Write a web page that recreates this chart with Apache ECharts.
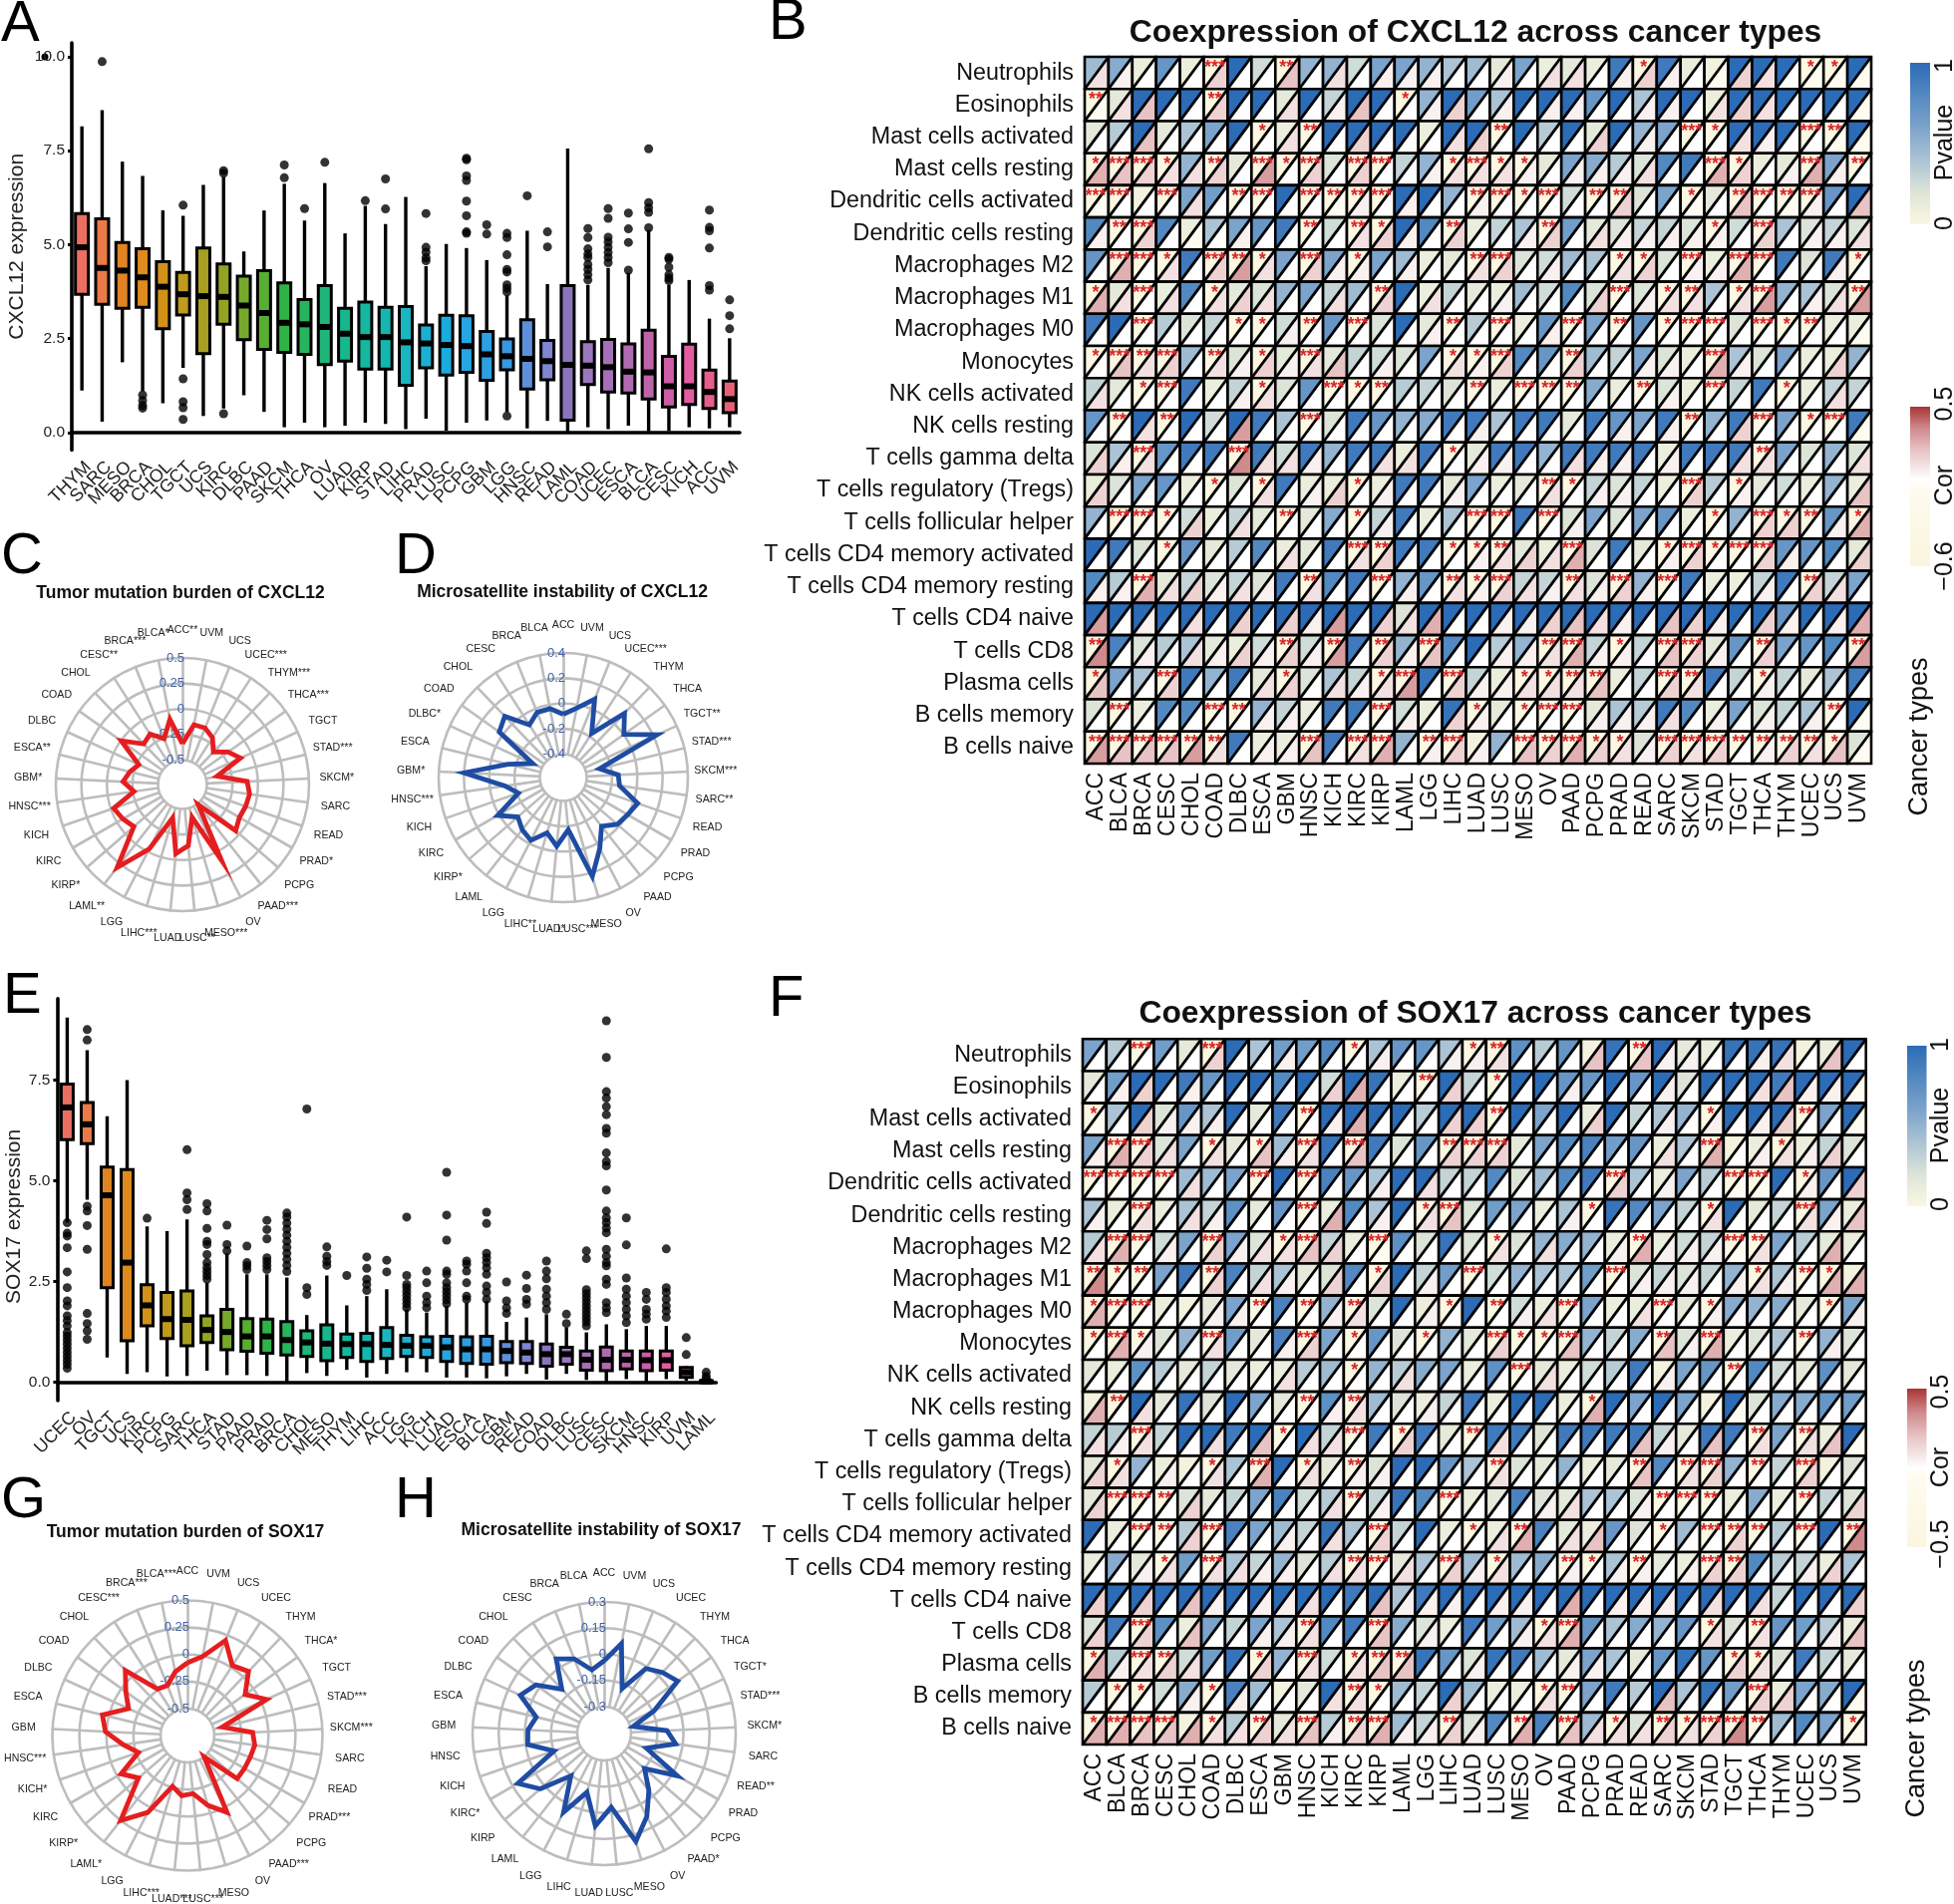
<!DOCTYPE html>
<html><head><meta charset="utf-8">
<style>html,body{margin:0;background:#fff}#c{width:1960px;height:1910px}</style>
<script src="https://cdn.jsdelivr.net/npm/echarts@6/dist/echarts.min.js"></script></head>
<body><div id="c"></div>
<script>
const cancers=["ACC","BLCA","BRCA","CESC","CHOL","COAD","DLBC","ESCA","GBM","HNSC","KICH","KIRC","KIRP","LAML","LGG","LIHC","LUAD","LUSC","MESO","OV","PAAD","PCPG","PRAD","READ","SARC","SKCM","STAD","TGCT","THCA","THYM","UCEC","UCS","UVM"];
const cells=["Neutrophils","Eosinophils","Mast cells activated","Mast cells resting","Dendritic cells activated","Dendritic cells resting","Macrophages M2","Macrophages M1","Macrophages M0","Monocytes","NK cells activated","NK cells resting","T cells gamma delta","T cells regulatory (Tregs)","T cells follicular helper","T cells CD4 memory activated","T cells CD4 memory resting","T cells CD4 naive","T cells CD8","Plasma cells","B cells memory","B cells naive"];
const hues=["#EC6F62","#EA7B48","#E08423","#DD8A1F","#D2921A","#BF9A1B","#A89F20","#94A224","#76A92B","#58AD33","#2FB246","#26B55E","#1FB679","#16B78D","#13B89F","#14B7AF","#19B5C0","#1AB1D0","#1AACDC","#25A6E2","#2D9FE0","#3898E0","#5E8FDA","#7F86D0","#8A75BC","#9A77BE","#A570B8","#B06BB0","#BE63AA","#CC5CA8","#E25DA0","#E55E8D","#E86078"];

// Panel A: low, q1, median, q3, high
const aNames=["THYM","SARC","MESO","BRCA","CHOL","TGCT","UCS","KIRC","DLBC","PAAD","SKCM","THCA","OV","LUAD","KIRP","STAD","LIHC","PRAD","LUSC","PCPG","GBM","LGG","HNSC","READ","LAML","COAD","UCEC","ESCA","BLCA","CESC","KICH","ACC","UVM"];
const aStats=[[1.12,3.68,4.93,5.83,8.15],[.29,3.41,4.38,5.69,8.58],[1.87,3.31,4.31,5.06,7.21],[1.1,3.33,4.13,4.89,6.83],[.78,2.76,3.88,4.55,5.91],[1.72,3.13,3.68,4.26,5.77],[.44,2.1,3.63,4.91,6.59],[.64,2.88,3.61,4.49,6.8],[.99,2.47,3.38,4.16,4.82],[.55,2.21,3.18,4.31,5.91],[.14,2.13,2.92,3.98,6.62],[.26,2.08,2.88,3.54,5.64],[.14,1.81,2.81,3.91,6.64],[.18,1.9,2.63,3.31,5.3],[.26,1.69,2.54,3.47,6.03],[.23,1.69,2.54,3.33,5.55],[.09,1.26,2.4,3.35,6.27],[.37,1.72,2.37,2.86,4.43],[.05,1.53,2.33,3.12,5.02],[.26,1.6,2.3,3.11,4.91],[.32,1.39,2.08,2.69,4.59],[.55,1.67,2.03,2.49,3.65],[.11,1.16,1.96,3,5.37],[.31,1.4,1.9,2.45,3.95],[.02,.33,1.8,3.91,7.56],[.14,1.28,1.78,2.42,3.93],[.09,1.08,1.74,2.48,4.38],[.18,1.05,1.62,2.36,4.25],[.03,.89,1.6,2.72,5.39],[.04,.68,1.23,2.03,3.93],[.14,.75,1.23,2.35,4.06],[.11,.64,1.08,1.66,3.03],[.14,.53,.89,1.37,2.51]];
const aOut=[[],[9.87],[],[1,.85,.72,.65],[],[6.05,1.43,.82,.66,.35],[],[6.97,6.9,.5],[],[],[7.12,6.78],[5.96],[7.19],[],[6.17],[6.75,5.95],[],[5.83,4.93,4.8,4.65,4.57],[],[7.3,7.26,6.83,6.71,6.16,5.77,5.34,5.3],[5.53,5.28],[5.3,5.19,4.73,4.34,4.27,3.93,3.84,3.74,.44],[6.3],[5.34,4.94],[],[5.43,5.19,4.89,4.75,4.66,4.47,4.34,4.2,4.06],[5.96,5.7,5.2,5.07,4.93,4.79,4.66,4.52],[5.84,5.42,5.06,4.32],[7.55,6.12,5.98,5.86,5.45],[4.66,4.61,4.4,4.2,4.11,4.04],[],[5.92,5.46,5.37,4.91,3.91,3.79],[3.53,3.11,2.76]];

// Panel E
const eNames=["UCEC","OV","TGCT","UCS","KIRC","PCPG","SARC","THCA","STAD","PAAD","PRAD","BRCA","CHOL","MESO","THYM","LIHC","ACC","LGG","KICH","LUAD","ESCA","BLCA","GBM","READ","COAD","DLBC","LUSC","CESC","SKCM","HNSC","KIRP","UVM","LAML"];
const eStats=[[3.96,6.02,6.82,7.4,9.05],[4.53,5.92,6.4,6.94,8.24],[.62,2.35,4.64,5.34,6.6],[.21,1.03,2.97,5.28,7.5],[.25,1.4,1.91,2.42,3.87],[.15,1.09,1.57,2.23,3.75],[.16,.91,1.55,2.27,4.04],[.29,.99,1.3,1.65,2.47],[.18,.81,1.25,1.81,3.2],[.18,.77,1.14,1.58,2.68],[.16,.72,1.14,1.57,2.68],[0,.68,1.05,1.51,2.6],[.23,.64,.99,1.28,1.67],[.16,.54,.96,1.43,2.65],[.31,.62,.95,1.2,1.91],[.12,.52,.95,1.22,2.14],[.21,.59,.93,1.36,2.31],[.25,.64,.91,1.17,1.81],[.25,.62,.91,1.13,1.73],[.12,.52,.87,1.14,1.9],[.12,.47,.82,1.13,1.98],[.1,.45,.82,1.14,2.02],[.15,.49,.78,1.01,1.5],[.21,.47,.74,1.01,1.61],[.07,.4,.7,.95,1.69],[.21,.45,.7,.87,1.36],[.06,.3,.56,.78,1.24],[.02,.29,.56,.88,1.44],[.08,.33,.56,.78,1.32],[.02,.29,.55,.78,1.4],[.08,.3,.55,.78,1.4],[.04,.12,.25,.37,.4],[0,0,.02,.04,.06]];
const eOut=[[3.96,3.7,3.63,3.34,2.74,2.35,2.02,1.9,1.65,1.53,1.4,1.24,1.15,1.05,.95,.85,.75,.65,.55,.45,.35],[8.75,8.49,4.37,4.25,3.89,3.3,1.71,1.46,1.28,1.07],[],[],[4.07],[],[5.77,4.7,4.53,4.29],[4.43,4.25,3.82,3.5,3.42,3.17,2.97,2.85,2.75,2.65,2.56],[3.9,3.42,3.26],[3.38,2.97,2.89,2.8],[4.02,3.79,3.56,3.09,3,2.9,2.8],[4.2,4.1,3.95,3.8,3.65,3.5,3.35,3.2,3.05,2.9,2.75],[6.78,2.35,2.18],[3.36,3.13,3,2.9],[2.65],[3.11,2.83,2.56,2.43,2.28],[3.03,2.74],[4.1,2.65,2.43,2.35,2.25,2.15,2.05,1.95,1.85],[2.76,2.47,2.14,1.98,1.85],[5.21,4.15,3.53,2.76,2.68,2.47,2.35,2.25,2.15,2.05,1.95],[3.01,2.93,2.76,2.47,2.14,2.06],[4.22,3.94,3.2,3.09,2.97,2.84,2.68,2.39,2.23,2.06],[2.49,2.02,1.85,1.71],[2.66,2.33,2.06,1.94],[3.01,2.76,2.57,2.31,2.14,1.98,1.81],[1.69,1.46],[3.26,3.07,2.3,2.2,2.1,2,1.9,1.8,1.7,1.6,1.5,1.4],[8.97,8.06,7.21,7.05,6.84,6.64,6.3,6.18,5.69,5.48,5.37,4.77,4.25,4.08,3.96,3.83,3.71,3.3,3.13,2.97,2.89,2.56,2.43,1.98,1.85,1.73],[4.08,3.41,2.59,2.31,2.14,1.98,1.81,1.65,1.48],[2.23,2.06,1.81,1.69,1.57],[3.31,2.35,2.23,2.06,1.9,1.77,1.61],[1.11,.69],[.25,.15,.08]];

// Radar panels, alphabetical order as in cancers
const tmbC=[-.34,-.09,-.256,-.153,-.19,-.003,-.27,-.21,-.157,-.26,-.027,-.066,-.11,.294,-.03,-.4,-.06,-.138,-.405,.096,-.49,-.05,-.095,-.085,-.075,-.105,-.39,-.115,-.19,-.3,-.195,-.143,-.143];
const msiD=[-.085,-.03,-.03,-.09,.085,.036,-.32,-.136,.2,-.12,-.21,.014,-.11,-.06,-.026,-.13,-.04,-.17,.23,.045,-.096,-.02,.002,.037,-.136,-.15,-.29,.23,.003,.116,-.17,.083,-.026];
const tmbG=[-.076,-.15,-.25,-.237,.083,-.05,-.15,.06,.01,-.15,-.27,-.04,-.15,.25,.05,-.26,-.19,-.21,-.076,.05,-.5,-.14,-.14,-.135,-.12,-.145,-.417,.056,-.094,.07,.02,.198,-.005];
const msiH=[-.037,-.083,.007,.054,-.103,.026,.074,-.054,-.017,-.012,-.15,.117,.03,-.146,.053,-.104,.077,-.03,.19,.08,-.04,-.148,.03,-.198,-.04,-.094,-.283,-.14,.063,.03,-.011,-.177,.07];
const starsC={ACC:"**",BLCA:"*",BRCA:"***",CESC:"**",ESCA:"**",GBM:"*",HNSC:"***",KIRP:"*",LAML:"**",LIHC:"***",LUSC:"**",MESO:"***",PAAD:"***",PRAD:"*",SKCM:"*",STAD:"***",THCA:"***",THYM:"***",UCEC:"***"};
const starsD={DLBC:"*",GBM:"*",HNSC:"***",KIRP:"*",LIHC:"**",LUAD:"*",LUSC:"***",SARC:"**",SKCM:"***",STAD:"***",TGCT:"**",UCEC:"***"};
const starsG={BLCA:"***",BRCA:"***",CESC:"***",HNSC:"***",KICH:"*",KIRP:"*",LAML:"*",LIHC:"***",LUAD:"***",LUSC:"***",PAAD:"***",PRAD:"***",SKCM:"***",STAD:"***",THCA:"*"};
const starsH={KIRC:"*",PAAD:"*",READ:"**",SKCM:"*",STAD:"***",TGCT:"*"};

// Panel B: P values
const bP=[
[.45,.55,.1,.7,.1,0,1,.25,0,.5,.5,.25,.6,.6,.5,.4,.45,.15,.6,.1,.15,.1,.9,0,.9,.1,.05,1,1,1,0,0,1],
[0,.15,1,1,1,0,1,1,.15,1,.3,1,1,0,.5,1,.65,.4,1,1,1,.7,1,.4,1,1,.1,1,1,1,1,1,1],
[.15,.35,1,.15,.4,.6,1,0,.1,0,1,1,1,1,.1,1,1,0,1,.35,1,.15,1,.5,.6,0,0,1,1,1,0,0,1],
[0,0,0,0,.5,0,.15,0,0,0,.2,0,0,.3,.5,0,0,0,0,.15,.6,.55,.35,.2,.8,.9,0,0,.1,.15,0,.6,0],
[0,0,.05,0,.6,.65,0,0,1,0,0,0,0,1,1,.5,0,0,0,0,.25,0,0,.2,.6,0,.15,0,0,0,0,.7,1],
[.8,0,0,.8,.1,.4,.6,.7,.9,0,.25,0,0,1,.8,0,.1,.3,.4,0,.65,.15,.2,.3,.3,.2,0,.25,0,.4,.2,.3,.2],
[.7,0,0,0,.9,0,0,0,.6,0,.6,0,.6,.45,.1,.15,0,0,.2,.25,.45,.4,0,0,.2,0,.1,0,0,.9,.2,.9,0],
[0,.15,0,.1,.8,0,.15,.2,.5,.6,.3,.45,0,1,.1,.3,.15,.1,.45,.25,.8,.2,0,.2,0,0,.4,0,0,.5,.4,.2,0],
[.9,1,0,.35,.2,.3,0,0,.25,0,.7,0,.2,1,.15,0,.35,0,.1,.7,0,.6,0,.7,0,0,0,.2,0,0,0,.1,.1],
[0,0,0,0,.45,0,.2,0,.15,0,.15,.3,.25,.2,.6,0,0,0,.8,.7,0,.45,.3,.6,.2,.1,0,.4,.2,.6,.1,.1,.5],
[.3,.15,0,0,.9,.1,.3,0,.2,.7,0,0,0,.35,.3,.2,0,.1,0,0,0,.55,.1,0,.2,.1,0,.3,.9,0,.1,.3,.3],
[.7,0,1,0,1,.25,1,.9,.4,0,.2,.9,.7,.5,.55,.9,.9,.4,.9,.9,.15,.9,.7,.6,.9,0,.5,.9,0,.6,0,0,.9],
[.2,.4,0,.7,.9,.9,0,.9,.25,.9,.5,.9,.9,.1,.9,0,.15,.9,.9,.5,.9,.9,.9,.9,.1,.9,.9,.9,0,.6,.2,.5,.2],
[.1,.2,.6,.7,.1,0,.2,0,.9,.1,.1,0,.1,.9,.9,.15,.6,.1,.15,0,0,.3,.2,.3,.1,0,.35,0,.15,.25,.1,.5,.1],
[.5,0,0,0,.25,.1,.3,.15,0,.15,.55,0,.3,.9,.1,.4,0,0,.9,0,.2,.6,.2,.6,.7,.1,0,.5,0,0,0,.7,0],
[1,.9,.2,0,.7,.15,.35,.8,.1,.15,.9,0,0,.9,.9,0,0,0,.15,.1,0,.2,.9,.15,0,0,0,0,0,.7,.7,.8,.15],
[.8,.35,0,.15,.3,.2,.3,.2,.9,0,.8,.9,0,.5,.7,0,0,0,.3,.3,0,.2,0,.5,0,.9,.1,.1,.3,.9,0,.3,.6],
[1,1,1,1,1,1,1,1,1,1,1,1,1,.2,1,1,1,1,1,1,1,1,1,1,1,1,1,1,1,.7,1,1,1],
[0,.85,.2,.35,.4,.15,.1,.25,0,.25,0,.9,0,.5,0,.8,1,.35,.5,0,0,.3,0,.3,0,0,.15,.7,0,.6,.7,.8,0],
[0,.6,.4,0,.9,.5,.9,.15,0,.2,.4,.3,0,0,.95,0,.3,.1,0,0,0,0,.1,.3,0,0,.9,.3,0,.3,.15,.4,.9],
[.2,0,.1,.8,.8,0,0,.5,.3,.1,.9,.9,0,.25,.1,.95,0,.15,0,0,0,.15,.4,.35,.9,.8,.1,.6,.2,.3,.4,0,1],
[0,0,0,0,0,0,.9,.1,.1,0,.9,0,0,.5,0,0,.05,.5,0,0,0,0,0,.2,0,0,0,0,0,0,0,0,.2]];
// Panel B: correlation x100
const bC=[
[10,5,0,0,0,15,0,0,20,0,10,0,5,5,5,0,0,5,0,10,10,0,5,15,5,0,-5,15,10,0,-5,-5,-5],
[-5,10,20,0,0,15,0,0,10,0,5,20,0,0,5,15,0,5,0,5,5,0,0,5,5,0,10,15,10,0,0,0,-5],
[0,0,20,0,0,0,0,0,10,0,0,15,0,0,0,10,15,0,0,0,0,15,0,5,0,0,0,10,5,0,0,-5,-5],
[25,20,15,10,10,15,0,30,0,15,0,15,0,0,5,10,10,10,5,0,5,5,5,10,0,0,25,15,0,5,25,5,0],
[-5,0,0,0,10,0,0,0,0,0,-5,5,0,5,0,0,5,0,0,0,0,0,15,0,0,-5,0,20,0,-5,5,0,20],
[5,0,15,0,-5,0,5,0,0,0,0,10,15,5,0,15,0,0,5,15,0,10,5,5,5,5,5,0,15,0,5,5,10],
[0,25,0,10,0,15,30,10,0,15,5,5,0,5,0,0,10,15,0,5,0,0,10,15,0,5,5,25,0,0,0,5,0],
[25,10,0,10,0,10,15,10,0,0,10,0,15,0,10,0,0,5,0,0,0,15,0,5,10,10,0,10,30,0,5,10,30],
[0,0,0,0,0,0,0,0,5,0,0,0,0,0,5,0,0,0,0,5,0,0,0,0,0,0,0,0,0,0,0,0,-5],
[0,20,10,15,0,10,5,15,5,10,20,0,5,0,0,10,5,15,0,0,15,0,0,5,5,0,25,5,0,0,0,15,0],
[10,0,0,0,0,0,5,10,0,0,0,0,0,0,0,0,0,0,0,0,0,0,0,0,5,0,0,0,0,0,0,10,0],
[0,0,10,0,0,0,30,0,0,0,0,0,0,0,0,0,5,0,0,0,0,0,5,0,5,0,0,15,0,0,0,0,-5],
[15,5,10,0,0,0,35,10,10,5,0,0,10,10,0,0,5,5,0,0,10,5,5,0,5,0,0,10,10,0,0,0,10],
[15,0,0,0,0,0,0,10,0,5,15,0,5,0,0,5,0,0,0,10,0,5,5,0,0,15,0,5,0,0,0,0,20],
[0,0,0,0,15,0,10,0,0,0,0,0,5,0,0,0,0,0,0,0,5,0,0,0,0,0,0,0,15,15,0,5,25],
[0,0,0,0,0,0,0,0,10,0,0,10,15,0,0,0,5,10,15,10,25,0,0,0,5,15,0,0,15,5,0,0,15],
[5,5,25,10,15,5,10,5,0,10,0,0,0,5,0,10,5,15,10,5,10,5,15,5,0,0,0,0,5,0,15,10,0],
[30,0,5,0,10,0,15,0,15,5,30,0,15,10,25,0,0,5,5,15,20,10,5,0,20,15,5,0,15,5,0,5,25],
[35,0,5,0,10,5,15,5,15,5,30,0,15,5,20,0,0,5,5,10,25,5,5,0,20,15,5,0,15,0,0,0,30],
[20,0,0,15,0,0,0,10,15,0,10,5,10,30,0,15,5,5,10,10,10,20,0,0,15,10,0,0,5,0,0,0,0],
[0,0,0,0,0,0,0,5,5,0,0,0,0,5,0,15,5,0,0,0,0,5,5,5,10,0,5,0,5,0,5,0,-5],
[30,20,20,20,30,10,0,5,5,20,0,10,25,0,5,15,5,0,20,15,25,15,10,5,15,10,15,0,5,15,10,20,-5]];
// Panel B: significance stars {column: count}
const bS=[{5:3,8:2,23:1,30:1,31:1},{0:2,5:2,13:1},{7:1,9:2,17:2,25:3,26:1,30:3,31:2},{0:1,1:3,2:3,3:1,5:2,7:3,8:1,9:3,11:3,12:3,15:1,16:3,17:1,18:1,26:3,27:1,30:3,32:2},{0:3,1:3,3:3,6:2,7:3,9:3,10:2,11:2,12:3,16:2,17:3,18:1,19:3,21:2,22:2,25:1,27:2,28:3,29:2,30:3},{1:2,2:3,9:2,11:2,12:1,15:2,19:2,26:1,28:3},{1:3,2:3,3:1,5:3,6:2,7:1,9:3,11:1,16:2,17:3,22:1,23:1,25:3,27:3,28:3,32:1},{0:1,2:3,5:1,12:2,22:3,24:1,25:2,27:1,28:3,32:2},{2:3,6:1,7:1,9:2,11:3,15:2,17:3,20:3,22:2,24:1,25:3,26:3,28:3,29:1,30:2},{0:1,1:3,2:2,3:3,5:2,7:1,9:3,15:1,16:1,17:3,20:2,26:3},{2:1,3:3,7:1,10:3,11:1,12:2,16:2,18:3,19:2,20:2,23:2,26:3,29:1},{1:2,3:2,9:3,25:2,28:3,30:1,31:3},{2:3,6:3,15:1,28:2},{5:1,7:1,11:1,19:2,20:1,25:3,27:1},{1:3,2:3,3:1,8:2,11:1,16:3,17:3,19:3,26:1,28:3,29:1,30:2,32:1},{3:1,11:3,12:2,15:1,16:1,17:2,20:3,24:1,25:3,26:1,27:3,28:3},{2:3,9:2,12:3,15:2,16:1,17:3,20:2,22:3,24:3,30:2},{},{0:2,8:2,10:2,12:2,14:3,19:2,20:3,22:1,24:3,25:3,28:2,32:2},{0:1,3:3,8:1,12:1,13:3,15:3,18:1,19:1,20:2,21:2,24:3,25:2,28:1},{1:3,5:3,6:2,12:3,16:1,18:1,19:3,20:3,31:2},{0:2,1:3,2:3,3:3,4:2,5:2,9:3,11:3,12:3,14:2,15:3,18:3,19:2,20:3,21:1,22:1,24:3,25:3,26:3,27:2,28:2,29:2,30:2,31:1}];

// Panel F
const fP=[
[.6,.35,0,.65,.15,0,1,.4,.65,.65,.8,0,.4,.7,.7,.4,0,0,.75,.35,.7,.05,.95,0,1,.15,.1,.95,.95,.95,.05,.1,1],
[.15,.65,1,1,.9,.7,1,1,.8,1,.25,1,.95,.1,0,1,.3,0,1,1,.7,.7,1,.7,1,.2,1,1,1,.9,1,1,1],
[0,.4,1,.2,.7,.4,1,.15,.9,0,1,1,1,1,.35,1,1,0,1,.6,1,.1,1,.3,.4,.5,0,1,1,1,0,.6,1],
[.6,0,0,.2,.6,0,.15,0,.45,0,.95,0,.9,.2,.7,0,0,0,.15,.6,.8,.85,.65,.7,.1,.4,0,.05,.1,0,.1,.3,.2],
[0,0,0,0,.45,.45,.6,0,1,0,.85,.7,.4,1,1,.3,.3,.8,.2,.45,.8,.9,0,.4,.1,.6,.35,0,0,1,0,.7,1],
[.4,.1,0,.1,.4,.3,.75,.15,.7,0,.1,.8,.4,1,0,0,.2,.65,.6,.1,.4,0,.95,.8,.6,.3,0,1,.15,.3,0,.6,.1],
[.35,0,0,.25,.6,0,.6,.2,0,0,.3,.1,0,.75,.2,.95,.2,0,.2,.5,.55,.5,.1,0,.1,.25,.3,0,0,.6,.35,.15,.1],
[0,0,0,.6,.9,0,.85,.3,.4,.15,.2,.8,0,1,.3,.65,0,.25,.5,.4,.4,.65,0,.2,.3,.2,.3,.5,0,.4,0,0,.05],
[0,0,0,.1,.05,.15,.6,0,.85,0,.5,0,.2,1,.1,0,1,0,.25,.1,0,.6,.1,.1,0,.15,0,.55,.5,.55,.15,0,.6],
[0,0,0,.2,.5,0,.65,.15,.85,0,.6,0,.7,.2,0,.5,.15,0,0,0,0,.5,.3,.55,0,.2,0,.1,.2,.4,0,.5,.2],
[.15,.1,.75,.35,.15,.3,.15,.1,.1,.35,.45,0,.5,.35,.55,.6,.1,.75,0,.15,.1,.25,.35,.9,.05,.6,.7,0,.8,.25,.15,.75,.15],
[.05,0,1,.15,.95,.2,1,.6,.15,0,.75,0,.45,.2,.1,.3,.9,.1,1,1,.1,0,1,.6,1,.6,.05,1,.2,.55,.55,.7,.65],
[.3,.35,0,.3,1,1,.9,1,0,1,.3,0,.9,0,.9,.15,0,.9,.9,.2,.9,.9,.9,.9,.3,.15,.9,.9,0,.6,0,.1,1],
[.15,0,.5,.1,.05,0,.4,0,1,0,.15,0,.2,1,1,.7,.4,0,.2,.15,.5,.1,.15,0,.8,0,0,.5,0,.3,0,.05,.2],
[.15,0,0,0,.2,.15,.3,.6,.85,.25,.35,0,.3,.95,.8,0,.1,.15,.85,.2,.15,.4,.4,.2,0,0,0,.1,.55,.1,0,.3,.2],
[1,.1,0,0,.35,0,.85,.6,.45,.3,.95,.4,0,.3,1,.1,0,.1,0,.85,.15,.1,.7,.2,0,.45,0,0,0,.35,0,1,0],
[.1,.55,.15,0,.65,0,.4,.3,.5,.2,.35,0,0,.15,.4,0,.45,0,.45,.55,0,0,.4,0,.15,.1,0,0,.8,.35,.3,.1,.4],
[1,1,1,1,1,1,1,1,1,1,1,.9,1,.4,.9,1,1,1,1,1,1,1,1,1,1,1,1,1,1,.3,1,1,1],
[.2,.9,0,.75,.1,.6,.3,.6,.4,0,.8,.9,0,.55,.2,.1,.9,.65,.45,0,0,.7,.4,.55,.5,.7,0,.2,0,.7,.65,.35,.1],
[0,.35,0,0,.25,.65,.95,0,.5,0,.25,0,0,0,.95,.7,.2,.95,.9,.45,.15,.6,.4,.15,.7,.95,.7,0,0,.2,.9,.3,.15],
[.35,0,0,.25,.55,0,.85,.45,.05,.15,1,0,0,.45,.3,1,.45,.1,.1,0,0,.6,.9,.35,1,.4,.95,.65,0,.1,.6,.55,1],
[0,0,0,0,.05,0,.35,0,.15,0,.35,0,0,.45,.3,0,.2,.8,0,.85,0,.45,0,.2,0,0,0,0,0,.45,.8,.6,0]];
const fC=[
[0,0,0,0,0,15,0,0,5,0,0,0,5,0,0,5,5,10,0,0,0,20,0,20,5,5,0,0,5,10,0,20,0],
[0,5,15,0,5,0,0,0,0,0,15,25,0,0,0,15,0,0,0,0,5,0,0,0,5,0,0,0,10,20,5,5,-5],
[-5,0,15,5,5,5,0,0,0,0,5,25,0,0,0,15,15,0,0,0,0,15,0,0,5,0,5,0,5,15,0,0,-5],
[5,25,15,10,0,10,0,20,5,10,0,20,0,0,0,15,15,15,0,0,0,0,0,0,10,0,25,0,5,10,5,15,0],
[0,0,0,0,10,0,0,0,0,0,0,0,5,0,10,0,0,0,0,0,0,0,15,0,5,0,0,-5,-5,0,5,0,15],
[5,0,10,0,10,5,0,0,0,0,25,0,5,0,10,20,0,0,0,0,5,0,0,0,0,0,10,0,0,0,10,5,20],
[10,25,0,5,0,15,5,10,10,20,15,0,-5,0,0,0,0,10,0,10,0,0,5,25,5,5,5,-5,10,0,0,25,0],
[35,0,0,0,0,15,0,10,5,0,15,0,15,0,5,0,0,0,0,0,0,0,0,5,5,5,0,5,10,5,0,25,25],
[25,0,0,0,0,5,5,0,0,0,5,10,0,0,5,0,0,0,5,10,0,0,0,10,0,0,5,0,0,0,0,0,5],
[0,25,5,0,0,10,0,0,5,15,0,0,0,0,0,0,0,15,0,0,20,0,0,0,20,5,25,0,0,0,0,5,0],
[0,0,0,0,0,0,0,0,10,0,0,0,0,10,0,0,0,0,0,10,0,0,0,0,5,0,0,0,0,0,0,0,0],
[25,0,10,0,0,0,0,0,0,0,5,10,0,0,5,0,0,0,0,0,0,25,0,0,0,0,0,-5,0,0,0,0,0],
[10,5,10,0,0,10,0,20,0,10,10,0,0,15,0,0,0,10,0,0,0,0,0,20,5,0,20,0,10,0,10,20,-5],
[15,10,0,5,0,10,0,25,0,10,0,5,5,0,0,0,0,10,0,0,0,0,0,20,0,10,15,0,0,0,15,0,0],
[15,0,0,0,15,0,0,0,0,0,10,0,5,0,0,0,0,0,0,5,10,0,0,5,0,0,0,0,0,0,0,0,15],
[0,0,0,0,15,0,0,0,5,0,10,0,15,0,0,0,0,10,25,0,10,20,0,0,0,0,0,15,0,0,0,0,35],
[0,0,5,10,0,10,10,5,5,0,10,10,0,10,0,15,5,10,0,0,5,0,5,5,0,5,15,15,0,0,5,15,0],
[15,0,15,0,20,5,0,5,5,10,0,0,20,5,5,5,0,5,5,0,25,0,5,5,5,0,10,0,10,0,0,0,15],
[15,0,15,0,20,0,0,5,5,10,0,0,20,0,5,0,0,0,5,10,25,0,0,0,0,0,10,0,10,0,0,5,20],
[25,5,10,15,10,0,0,15,0,10,0,10,20,20,0,0,5,0,0,0,5,5,0,0,0,0,0,15,10,0,0,0,0],
[0,0,0,0,5,0,5,0,0,0,10,10,0,0,0,15,0,0,0,10,0,0,0,0,20,0,0,0,15,15,0,0,-5],
[25,25,20,20,25,10,10,15,10,20,5,15,25,5,5,15,5,0,25,0,20,10,10,10,15,10,15,35,0,0,0,0,-5]];
const fS=[{2:3,5:3,11:1,16:1,17:2,23:2},{14:2,17:1},{0:1,9:2,17:2,26:1,30:2},{1:3,2:3,5:1,7:1,9:3,11:3,15:2,16:3,17:3,26:3,29:1},{0:3,1:3,2:3,3:3,7:3,9:3,22:3,27:3,28:3,30:1},{2:3,9:3,14:1,15:3,21:1,26:1,30:3},{1:3,2:3,5:3,8:1,9:3,12:3,17:1,23:2,27:3,28:2},{0:2,1:1,2:2,5:2,12:1,16:3,22:3,28:1,30:2,31:1},{0:1,1:3,2:3,7:2,9:2,11:2,15:1,17:2,20:3,24:3,26:1,31:1},{0:1,1:3,2:1,5:3,9:3,11:1,14:1,17:3,18:1,19:1,20:3,24:2,26:3,30:2},{11:1,18:3,27:2},{1:2,9:2,11:2,21:1},{2:3,8:1,11:3,13:1,16:2,28:2,30:2},{1:1,5:1,7:3,9:1,11:2,17:2,23:2,25:2,26:3,28:2,30:3},{1:3,2:3,3:2,11:2,15:3,24:2,25:3,26:2,30:2},{2:3,3:2,5:3,12:3,16:1,18:2,24:1,26:3,27:2,28:2,30:3,32:2},{3:1,5:3,11:2,12:3,15:3,17:1,20:2,21:1,23:2,26:3,27:2},{},{2:3,9:2,12:3,19:1,20:3,26:1,28:2},{0:1,2:3,3:2,7:1,9:3,11:1,12:2,13:2,27:1,28:1},{1:1,2:1,5:1,11:2,12:1,19:1,20:2,28:3},{0:1,1:3,2:3,3:3,5:1,7:2,9:3,11:2,12:3,15:2,18:2,20:3,22:1,24:2,25:1,26:3,27:3,28:2,32:1}];

const SANS='"Liberation Sans",Arial,sans-serif';
const pStops=[[0,'#FBF7E1'],[.2,'#DCE4D8'],[.4,'#ABC3D4'],[.6,'#7BA3CB'],[.8,'#5389C1'],[1,'#2C6BB6']];
const cStops=[[-.6,'#FAF5DD'],[-.05,'#FEFCF0'],[0,'#FFFFFF'],[.1,'#F3E0E0'],[.2,'#E8C3C4'],[.35,'#CF8A8C'],[.5,'#A93435']];
function rgb(h){return [1,3,5].map(i=>parseInt(h.substr(i,2),16));}
function ramp(st,v){
  if(v<=st[0][0])return st[0][1];
  for(let i=1;i<st.length;i++){ if(v<=st[i][0]){
    const t=(v-st[i-1][0])/(st[i][0]-st[i-1][0]),a=rgb(st[i-1][1]),b=rgb(st[i][1]);
    return 'rgb('+a.map((x,k)=>Math.round(x+(b[k]-x)*t)).join(',')+')';}}
  return st[st.length-1][1];
}
function gradient(st,lo,hi){
  const s=st.filter(x=>x[0]>=lo&&x[0]<=hi);
  return {type:'linear',x:0,y:0,x2:0,y2:1,colorStops:[{offset:1,color:ramp(st,lo)}].concat(s.map(x=>({offset:(hi-x[0])/(hi-lo),color:x[1]}))).sort((a,b)=>a.offset-b.offset)};
}
function boxItem(hw){return function(params,api){
  const i=api.value(0),cx=api.coord([i,0])[0];
  const y=k=>api.coord([i,api.value(k)])[1];
  const low=y(1),q1=y(2),med=y(3),q3=y(4),high=y(5);
  return {type:'group',children:[
    {type:'line',shape:{x1:cx,y1:high,x2:cx,y2:low},style:{stroke:'#000',lineWidth:3.4}},
    {type:'rect',shape:{x:cx-hw,y:q3,width:2*hw,height:q1-q3},style:{fill:hues[i],stroke:'#000',lineWidth:3}},
    {type:'rect',shape:{x:cx-hw,y:med-3,width:2*hw,height:6},style:{fill:'#000'}}
  ]};
};}
function heatItem(params,api){
  const x=api.value(0),y=api.value(1),p=api.value(2),c=api.value(3)/100,n=api.value(4);
  const m=api.coord([x,y]),s=api.size([1,1]),w=Math.abs(s[0]),h=Math.abs(s[1]);
  const L=m[0]-w/2,R=m[0]+w/2,T=m[1]-h/2,B=m[1]+h/2;
  const kids=[
    {type:'polygon',shape:{points:[[L,T],[R,T],[L,B]]},style:{fill:ramp(pStops,p)}},
    {type:'polygon',shape:{points:[[R,T],[R,B],[L,B]]},style:{fill:ramp(cStops,c)}},
    {type:'line',shape:{x1:L,y1:B,x2:R,y2:T},style:{stroke:'#000',lineWidth:2.8}},
    {type:'rect',shape:{x:L,y:T,width:w,height:h},style:{fill:'none',stroke:'#000',lineWidth:2.6}}
  ];
  if(n>0)kids.push({type:'text',style:{text:'*'.repeat(n),x:m[0]-1,y:T+2,align:'center',verticalAlign:'top',fill:'#D8262B',font:'bold 18px '+SANS}});
  return {type:'group',children:kids};
}
const heatData=(P,C,S)=>{const d=[];P.forEach((r,y)=>r.forEach((p,x)=>d.push([x,y,p,C[y][x],S[y][x]||0])));return d;};
const outliers=O=>{const d=[];O.forEach((r,i)=>r.forEach(v=>d.push([i,v])));return d;};
const boxData=S=>S.map((r,i)=>[i].concat(r));

const grids=[
 {left:72,top:43,width:670,height:408.5,outerBoundsMode:'none'},
 {left:57.4,top:1001.7,width:661,height:403.3,outerBoundsMode:'none'},
 {left:1088,top:57,width:789,height:709,outerBoundsMode:'none'},
 {left:1086,top:1042.3,width:785.7,height:707.7,outerBoundsMode:'none'}
];
const boxX=names=>({type:'category',data:names,axisLine:{lineStyle:{color:'#000',width:3.6}},axisTick:{alignWithLabel:true,length:5,lineStyle:{color:'#000',width:3}},axisLabel:{interval:0,rotate:45,verticalAlign:'top',fontFamily:SANS,fontSize:18,color:'#222',margin:8}});
const boxY=(name,min,max,vals,pad,gap)=>({type:'value',min,max,splitLine:{show:false},name,nameLocation:'middle',nameGap:gap,nameTextStyle:{fontFamily:SANS,fontSize:21,color:'#222',padding:pad},
  axisLine:{show:true,lineStyle:{color:'#000',width:3.6}},
  axisTick:{show:true,length:4,lineStyle:{color:'#000',width:3},customValues:vals},
  axisLabel:{fontFamily:SANS,fontSize:15.5,color:'#222',margin:7,customValues:vals,formatter:v=>v.toFixed(1)}});
const heatX=()=>({type:'category',data:cancers,axisLine:{show:false},axisTick:{show:false},axisLabel:{interval:0,rotate:90,fontFamily:SANS,fontSize:23,color:'#111',margin:9}});
const heatY=()=>({type:'category',data:cells,inverse:true,axisLine:{show:false},axisTick:{show:false},axisLabel:{interval:0,fontFamily:SANS,fontSize:23.3,color:'#111',margin:11}});

function radar(cx,cy,r0,r,lo,hi,stars,gap){
  return {center:[cx,cy],radius:[r0,r],shape:'circle',splitNumber:4,startAngle:90,nameGap:gap,
    axisName:{color:'#222',fontFamily:SANS,fontSize:10.6,align:'center',verticalAlign:'middle'},
    splitArea:{show:false},
    splitLine:{lineStyle:{color:'#BDBDBD',width:2.6}},
    axisLine:{lineStyle:{color:'#BDBDBD',width:2.6}},
    axisTick:{show:false},
    axisLabel:{show:false},
    indicator:cancers.map((n,i)=>{
      const o={name:n+(stars[n]||''),min:lo,max:hi};
      if(i===0)o.axisLabel={show:true,color:'#3E62A8',fontFamily:SANS,fontSize:13,margin:-2,showMinLabel:true,showMaxLabel:true};
      return o;
    })};
}
const radarSeries=(i,vals,color)=>({type:'radar',radarIndex:i,symbol:'none',silent:true,lineStyle:{color,width:4.8,join:'miter'},itemStyle:{color},data:[{value:vals}],z:5});

const letter=(t,x,y)=>({type:'text',x,y,style:{text:t,font:'58px '+SANS,fill:'#000',align:'left',verticalAlign:'middle'}});
const label=(t,x,y,font,rot)=>({type:'text',x,y,rotation:rot?Math.PI/2:0,style:{text:t,font,fill:'#111',align:'center',verticalAlign:'middle'}});
const bar=(x,y,w,h,fill)=>({type:'rect',shape:{x,y,width:w,height:h},style:{fill}});
const F1='25px '+SANS,F2='27px '+SANS,TB='bold 17.5px '+SANS,TH='bold 31.8px '+SANS;

const option={animation:false,backgroundColor:'#fff',grid:grids,
 xAxis:[Object.assign(boxX(aNames),{gridIndex:0}),Object.assign(boxX(eNames),{gridIndex:1}),Object.assign(heatX(),{gridIndex:2}),Object.assign(heatX(),{gridIndex:3})],
 yAxis:[Object.assign(boxY('CXCL12 expression',-.467,10.37,[0,2.5,5,7.5,10],[0,0,0,0],44),{gridIndex:0}),
        Object.assign(boxY('SOX17 expression',-.452,9.52,[0,2.5,5,7.5],[0,34,0,0],33),{gridIndex:1}),
        Object.assign(heatY(),{gridIndex:2}),Object.assign(heatY(),{gridIndex:3})],
 radar:[radar(183,787,24.5,127,-.5,.5,starsC,28),radar(565,780,23.5,125,-.4,.4,starsD,28),radar(188,1741,27,135.5,-.5,.5,starsG,29),radar(606,1739,27,132,-.3,.3,starsH,29)],
 series:[
  {type:'custom',xAxisIndex:0,yAxisIndex:0,clip:false,encode:{x:0,y:[1,2,3,4,5]},data:boxData(aStats),renderItem:boxItem(6.5)},
  {type:'scatter',xAxisIndex:0,yAxisIndex:0,symbolSize:9,itemStyle:{color:'#000'},data:outliers(aOut)},
  {type:'custom',xAxisIndex:1,yAxisIndex:1,clip:false,encode:{x:0,y:[1,2,3,4,5]},data:boxData(eStats),renderItem:boxItem(6)},
  {type:'scatter',xAxisIndex:1,yAxisIndex:1,symbolSize:9,itemStyle:{color:'#000'},data:outliers(eOut)},
  {type:'custom',xAxisIndex:2,yAxisIndex:2,clip:false,encode:{x:0,y:1},data:heatData(bP,bC,bS),renderItem:heatItem},
  {type:'custom',xAxisIndex:3,yAxisIndex:3,clip:false,encode:{x:0,y:1},data:heatData(fP,fC,fS),renderItem:heatItem},
  radarSeries(0,tmbC,'#E41E20'),radarSeries(1,msiD,'#1F4CA3'),radarSeries(2,tmbG,'#E41E20'),radarSeries(3,msiH,'#1F4CA3')
 ],
 graphic:[
  letter('A',1,25),letter('B',771,23),letter('C',1,559),letter('D',396,559),letter('E',3,1000),letter('F',771,1003),letter('G',1,1506),letter('H',396,1506),
  label('Coexpression of CXCL12 across cancer types',1480,33,TH),
  label('Coexpression of SOX17 across cancer types',1480,1017.5,TH),
  label('Tumor mutation burden of CXCL12',181,595,TB),
  label('Microsatellite instability of CXCL12',564,594,TB),
  label('Tumor mutation burden of SOX17',186,1537,TB),
  label('Microsatellite instability of SOX17',603,1535,TB),
  bar(1916,63,20,162,gradient(pStops,0,1)),bar(1916,408,20,160,gradient(cStops,-.6,.5)),
  bar(1913,1049,19.5,161,gradient(pStops,0,1)),bar(1913,1393,19.5,159,gradient(cStops,-.5,.5)),
  label('1',1951,66,F1,1),label('Pvalue',1951,143,F1,1),label('0',1951,224,F1,1),
  label('0.5',1951,405,F1,1),label('Cor',1951,487,F1,1),label('\u22120.6',1951,568,F1,1),
  label('Cancer types',1926,739,F2,1),
  label('1',1947,1048,F1,1),label('Pvalue',1947,1129,F1,1),label('0',1947,1208,F1,1),
  label('0.5',1947,1396,F1,1),label('Cor',1947,1472,F1,1),label('\u22120.5',1947,1549,F1,1),
  label('Cancer types',1923,1744,F2,1),
  {type:'circle',shape:{cx:45,cy:57,r:3.5},style:{fill:'#000'}}
 ]};
const chart=echarts.init(document.getElementById('c'),null,{renderer:'canvas',width:1960,height:1910});
chart.setOption(option);
</script></body></html>
